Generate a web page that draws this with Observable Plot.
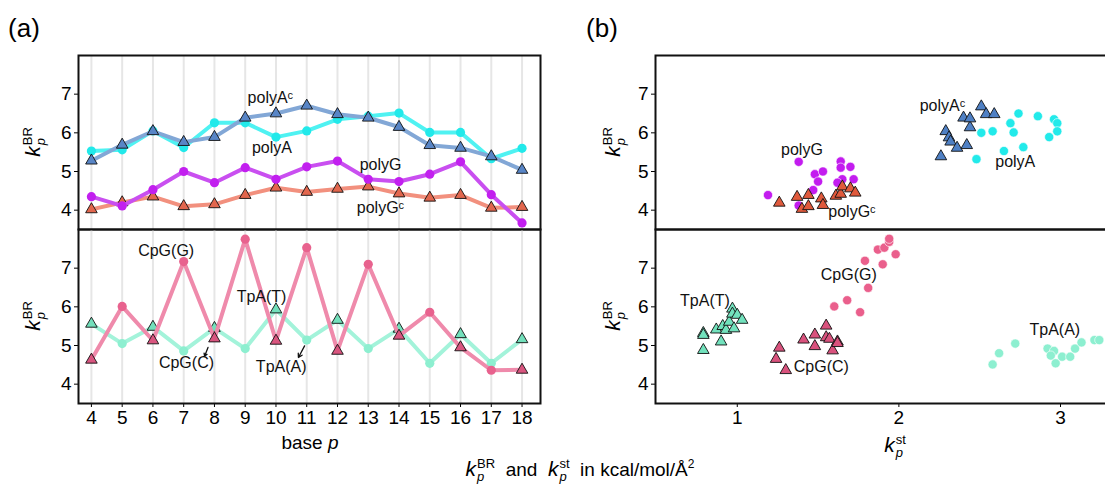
<!DOCTYPE html>
<html><head><meta charset="utf-8">
<script src="https://cdn.jsdelivr.net/npm/d3@7"></script>
<script src="https://cdn.jsdelivr.net/npm/@observablehq/plot@0.6"></script>
<style>
html,body{margin:0;padding:0;background:#fff;}
#root{position:relative;width:1105px;height:485px;overflow:hidden;background:#fff;font-family:"Liberation Sans",Arial,sans-serif;color:#000;}
.pos{position:absolute;}
.lab{position:absolute;white-space:nowrap;font-size:19px;}
.big{font-size:26px;}
.k{font-style:italic;font-size:21px;}
.ss{display:inline-block;vertical-align:middle;font-size:13px;line-height:13px;margin-left:1px;text-align:left;position:relative;top:-1px;}
.ss span{display:block;}
.ss .sb{font-style:italic;}
.rot{transform:translate(-50%,-50%) rotate(-90deg);}
.ctr{transform:translate(-50%,-50%);}
</style></head>
<body><div id="root"></div>
<script>
// ---------- data: panel (a) ----------
const bases = [4,5,6,7,8,9,10,11,12,13,14,15,16,17,18];
const polyA  = [5.53,5.56,6.05,5.62,6.26,6.26,5.89,6.05,6.35,6.43,6.51,6.01,6.01,5.33,5.60];
const polyAc = [5.28,5.69,6.04,5.76,5.89,6.39,6.50,6.70,6.48,6.39,6.15,5.68,5.61,5.39,5.04];
const polyG  = [4.35,4.11,4.53,5.00,4.71,5.10,4.80,5.12,5.27,4.80,4.74,4.93,5.25,4.40,3.67];
const polyGc = [4.02,4.20,4.35,4.10,4.15,4.39,4.58,4.47,4.55,4.61,4.43,4.32,4.39,4.06,4.08];
const cpg    = [4.63,6.01,5.13,7.17,5.18,7.75,5.12,7.53,4.86,7.10,5.25,5.86,4.95,4.36,4.37];
const tpa    = [5.56,5.05,5.48,4.86,5.45,4.92,5.93,5.14,5.66,4.92,5.43,4.54,5.29,4.54,5.16];

// ---------- data: panel (b) (k_st, k_BR) ----------
const bPolyG_st  = [1.19,1.38,1.38,1.47,1.48,1.50,1.53,1.64,1.64,1.65,1.62,1.70,1.72];
const bPolyG_br  = [4.39,5.25,4.12,4.52,4.93,4.74,5.00,5.26,5.10,4.80,4.71,5.12,4.80];
const bPolyGc_st = [1.26,1.37,1.40,1.44,1.44,1.52,1.53,1.61,1.64,1.65,1.70,1.73];
const bPolyGc_br = [4.19,4.34,4.03,4.39,4.10,4.30,4.13,4.37,4.42,4.61,4.56,4.45];
const bPolyAc_st = [2.26,2.29,2.31,2.32,2.36,2.42,2.40,2.44,2.44,2.51,2.54,2.59];
const bPolyAc_br = [5.39,6.04,5.88,5.77,5.61,5.68,6.39,6.14,6.37,6.68,6.48,6.48];
const bPolyA_st  = [2.48,2.51,2.58,2.65,2.69,2.71,2.74,2.77,2.86,2.93,2.96,2.98,2.98];
const bPolyA_br  = [5.32,6.00,6.04,5.53,6.25,6.01,6.50,5.63,6.43,5.89,6.35,6.25,6.04];
const bTpaT_st = [0.79,0.79,0.79,0.87,0.90,0.91,0.93,0.95,0.97,0.97,0.98,1.00,1.03];
const bTpaT_br = [5.32,5.27,4.88,5.41,5.10,5.50,5.40,5.61,5.95,5.82,5.44,5.79,5.66];
const bTpaA_st = [2.58,2.62,2.72,2.92,2.96,2.94,2.97,3.01,3.06,3.09,3.13,3.21,3.24];
const bTpaA_br = [4.51,4.80,5.05,4.92,4.86,4.74,4.54,4.71,4.71,4.92,5.08,5.14,5.14];
const bCpgC_st = [1.24,1.26,1.30,1.41,1.48,1.48,1.55,1.55,1.57,1.59,1.62,1.62];
const bCpgC_br = [4.65,4.94,4.36,5.15,5.28,4.98,5.51,5.21,5.17,4.87,5.10,5.06];
const bCpgG_st = [1.60,1.68,1.76,1.81,1.79,1.87,1.91,1.90,1.94,1.94,1.98];
const bCpgG_br = [6.01,6.17,5.86,6.49,7.19,7.48,7.53,7.10,7.68,7.76,7.36];

// ---------- annotation labels ----------
const labA_top = [["polyAᶜ",9.82,6.91],["polyA",9.87,5.60],["polyG",13.4,5.17],["polyGᶜ",13.4,4.06]];
const labA_bot = [["CpG(G)",6.43,7.46],["TpA(T)",9.53,6.26],["CpG(C)",7.09,4.54],["TpA(A)",10.17,4.46]];
const arrowsA_bot = [[7.79,4.95,7.68,4.72],[10.93,4.99,10.73,4.69]];
const labB_top = [["polyG",1.40,5.56],["polyGᶜ",1.71,3.96],["polyAᶜ",2.27,6.70],["polyA",2.72,5.24]];
const labB_bot = [["TpA(T)",0.80,6.16],["CpG(C)",1.52,4.46],["CpG(G)",1.69,6.83],["TpA(A)",2.965,5.40]];

const yTicks = [4,5,6,7];
const xTicksA = bases;
const xTicksB = [1,2,3];

// ---------- style ----------
const FONT = "Liberation Sans, Arial, sans-serif";
const C = {
  polyA:  {line:"#4ff2f2", dot:"#22e9ea"},
  polyAc: {line:"#82a7d6", dot:"#5885c6"},
  polyG:  {line:"#c94ff0", dot:"#c21fef"},
  polyGc: {line:"#f2907e", dot:"#e2664d"},
  cpg:    {line:"#ef8aab", dot:"#e8628e", tri:"#d9557f"},
  tpa:    {line:"#a3f3da", dot:"#8defd0", tri:"#72e0bb"}
};
const yDom = [3.5, 8.0];
const xDomA = [3.58, 18.6];
const xDomB = [0.494, 3.495];
const TR = 4.3, CR = 4.6;

const rows = arr => bases.map((b,i)=>({x:b, y:arr[i], i}));
const pts = (xs,ys) => xs.map((x,i)=>({x, y:ys[i]}));
const labs = a => a.map(([t,x,y])=>({t,x,y}));

function seriesMarks(arr, col, sym, symFn) {
  const d = rows(arr);
  const m = [Plot.line(d, {x:"x", y:"y", stroke:col.line, strokeWidth:4})];
  if (symFn) {
    m.push(Plot.dot(d.filter(r=>symFn(r)==="circle"), {x:"x", y:"y", r:CR, fill:col.dot, stroke:"none"}));
    m.push(Plot.dot(d.filter(r=>symFn(r)==="triangle"), {x:"x", y:"y", symbol:"triangle", r:TR, fill:col.tri, stroke:"#111", strokeWidth:0.9}));
  } else if (sym === "triangle") {
    m.push(Plot.dot(d, {x:"x", y:"y", symbol:"triangle", r:TR, fill:col.dot, stroke:"#111", strokeWidth:0.9}));
  } else {
    m.push(Plot.dot(d, {x:"x", y:"y", r:CR, fill:col.dot, stroke:"none"}));
  }
  return m;
}

function textMarks(l) {
  return Plot.text(labs(l), {x:"x", y:"y", text:"t", fontSize:16, fill:"#111", fontFamily:FONT});
}
const yAxis = () => Plot.axisY({ticks:yTicks, tickFormat:"d", tickSize:4, tickPadding:3, label:null, fontSize:19});

const root = document.getElementById("root");
function place(svg, left, top) {
  svg.classList.add("pos");
  svg.style.left = left + "px";
  svg.style.top = top + "px";
  root.appendChild(svg);
}

const baseStyle = {fontFamily:FONT, fontSize:"19px", background:"transparent", overflow:"visible"};

// (a) top
const aTop = Plot.plot({
  width:545, height:229, marginLeft:78, marginRight:5, marginTop:55, marginBottom:0,
  style:baseStyle,
  x:{domain:xDomA}, y:{domain:yDom},
  marks:[
    Plot.ruleX(xTicksA, {stroke:"#e6e6e6", strokeWidth:2}),
    ...seriesMarks(polyGc, C.polyGc, "triangle"),
    ...seriesMarks(polyG, C.polyG, "circle"),
    ...seriesMarks(polyA, C.polyA, "circle"),
    ...seriesMarks(polyAc, C.polyAc, "triangle"),
    textMarks(labA_top),
    Plot.axisX({ticks:[], label:null}),
    yAxis(),
    Plot.frame({stroke:"#111", strokeWidth:2})
  ]
});
place(aTop, 0, 0);

// (a) bottom
const aBot = Plot.plot({
  width:545, height:229, marginLeft:78, marginRight:5, marginTop:0, marginBottom:55,
  style:baseStyle,
  x:{domain:xDomA}, y:{domain:yDom},
  marks:[
    Plot.ruleX(xTicksA, {stroke:"#e6e6e6", strokeWidth:2}),
    ...seriesMarks(tpa, C.tpa, null, r => r.x % 2 === 0 ? "triangle" : "circle"),
    ...seriesMarks(cpg, C.cpg, null, r => r.x % 2 === 0 ? "triangle" : "circle"),
    textMarks(labA_bot),
    Plot.arrow(arrowsA_bot, {x1:d=>d[0], y1:d=>d[1], x2:d=>d[2], y2:d=>d[3], stroke:"#111", strokeWidth:1.3, headLength:5}),
    Plot.axisX({ticks:xTicksA, tickFormat:"d", tickSize:4, tickPadding:3, label:null, fontSize:19}),
    yAxis(),
    Plot.frame({stroke:"#111", strokeWidth:2})
  ]
});
place(aBot, 0, 229);

// (b) top
const bTop = Plot.plot({
  width:560, height:229, marginLeft:75, marginRight:0, marginTop:55, marginBottom:0,
  style:baseStyle,
  x:{domain:xDomB}, y:{domain:yDom},
  marks:[
    Plot.dot(pts(bPolyG_st,bPolyG_br), {x:"x", y:"y", r:CR, fill:"#c31cef", stroke:"#fff", strokeWidth:0.6}),
    Plot.dot(pts(bPolyGc_st,bPolyGc_br), {x:"x", y:"y", symbol:"triangle", r:TR, fill:"#e05a3c", stroke:"#111", strokeWidth:0.9}),
    Plot.dot(pts(bPolyA_st,bPolyA_br), {x:"x", y:"y", r:CR, fill:"#22eaea", stroke:"#fff", strokeWidth:0.6}),
    Plot.dot(pts(bPolyAc_st,bPolyAc_br), {x:"x", y:"y", symbol:"triangle", r:TR, fill:"#4f80c4", stroke:"#111", strokeWidth:0.9}),
    textMarks(labB_top),
    Plot.axisX({ticks:[], label:null}),
    yAxis(),
    Plot.frame({stroke:"#111", strokeWidth:2})
  ]
});
place(bTop, 580, 0);

// (b) bottom
const bBot = Plot.plot({
  width:560, height:229, marginLeft:75, marginRight:0, marginTop:0, marginBottom:55,
  style:baseStyle,
  x:{domain:xDomB}, y:{domain:yDom},
  marks:[
    Plot.dot(pts(bTpaT_st,bTpaT_br), {x:"x", y:"y", symbol:"triangle", r:TR, fill:"#72e2bd", stroke:"#111", strokeWidth:0.9}),
    Plot.dot(pts(bTpaA_st,bTpaA_br), {x:"x", y:"y", r:CR, fill:"#8defd0", stroke:"#fff", strokeWidth:0.6}),
    Plot.dot(pts(bCpgC_st,bCpgC_br), {x:"x", y:"y", symbol:"triangle", r:TR, fill:"#d9527d", stroke:"#111", strokeWidth:0.9}),
    Plot.dot(pts(bCpgG_st,bCpgG_br), {x:"x", y:"y", r:CR, fill:"#ea5f8c", stroke:"#fff", strokeWidth:0.6}),
    textMarks(labB_bot),
    Plot.axisX({ticks:xTicksB, tickFormat:"d", tickSize:4, tickPadding:3, label:null, fontSize:19}),
    yAxis(),
    Plot.frame({stroke:"#111", strokeWidth:2})
  ]
});
place(bBot, 580, 229);

// ---------- HTML titles / labels ----------
const kHTML = (sup, sub) => `<span class="k">k</span><span class="ss"><span>${sup}</span><span class="sb">${sub}</span></span>`;
function addLabel(html, x, y, cls) {
  const d = document.createElement("div");
  d.className = "lab " + cls;
  d.style.left = x + "px"; d.style.top = y + "px";
  d.innerHTML = html;
  root.appendChild(d);
}
addLabel("(a)", 24, 28, "ctr big");
addLabel("(b)", 602, 28, "ctr big");
addLabel(kHTML("BR","p"), 34, 142, "rot");
addLabel(kHTML("BR","p"), 34, 316, "rot");
addLabel(kHTML("BR","p"), 614, 142, "rot");
addLabel(kHTML("BR","p"), 614, 316, "rot");
addLabel('base <i>p</i>', 310, 443, "ctr");
addLabel(kHTML("st","p"), 895, 446, "ctr");
addLabel(kHTML("BR","p") + '&nbsp; and &nbsp;' + kHTML("st","p") + '&nbsp; in kcal/mol/Å<sup style="font-size:12px">2</sup>', 580, 470, "ctr");
</script>
</body></html>
